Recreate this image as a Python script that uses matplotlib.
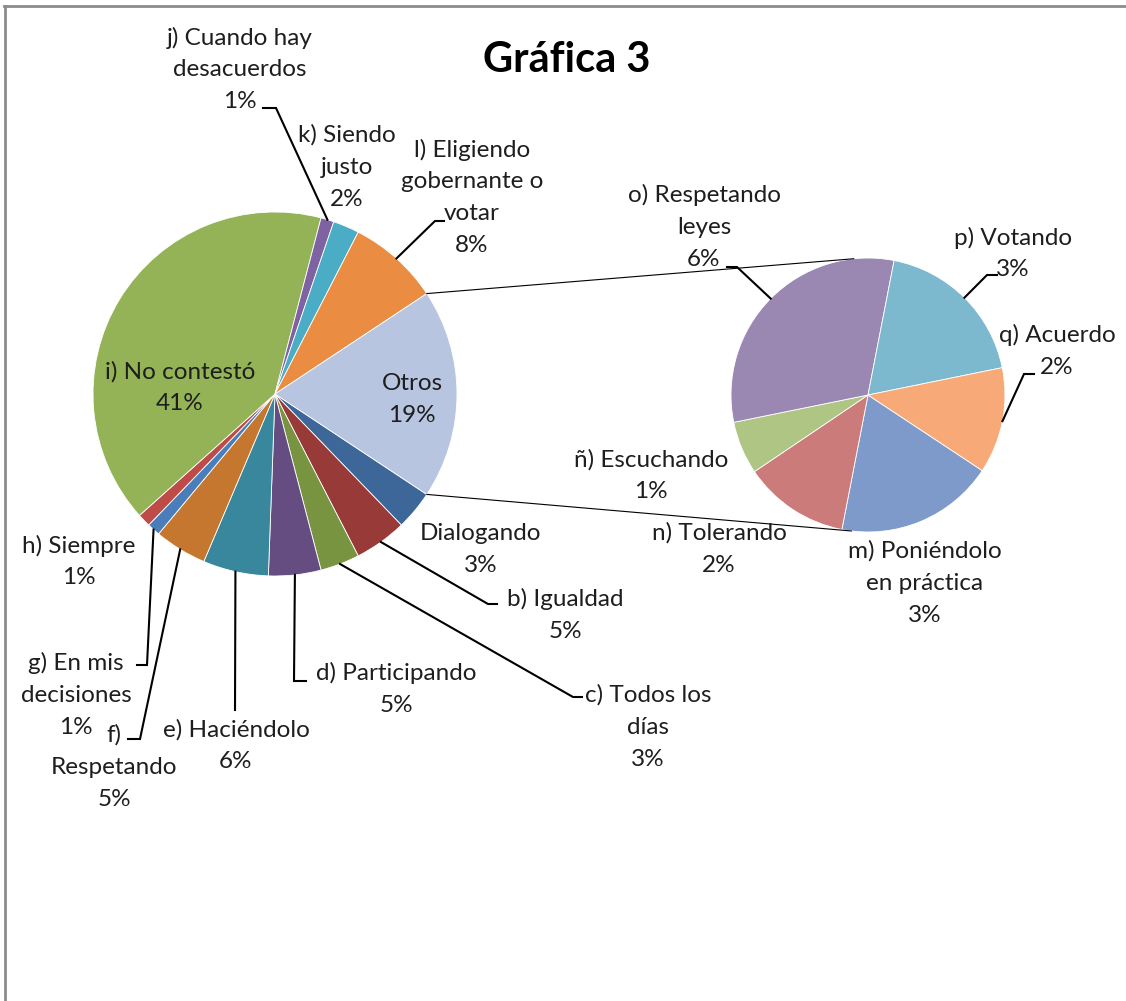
import numpy as np
import matplotlib.pyplot as plt

plt.rcParams['font.family'] = ['Lato', 'DejaVu Sans']

W, H = 1126, 1001

# main pie, number of answers, clockwise starting under "Otros"
main_names = ['Dialogando', 'b) Igualdad', 'c) Todos los\ndías', 'd) Participando',
              'e) Haciéndolo', 'f)\nRespetando', 'g) En mis\ndecisiones', 'h) Siempre',
              'i) No contestó', 'j) Cuando hay\ndesacuerdos', 'k) Siendo\njusto',
              'l) Eligiendo\ngobernante o\nvotar']
main_counts = [3, 4, 3, 4, 5, 4, 1, 1, 35, 1, 2, 7]
main_colors = ['#3D6798', '#983A38', '#789440', '#654D82', '#38879C', '#C5772F',
               '#4A7EBB', '#BE4B48', '#93B356', '#7E62A1', '#4BACC6', '#EA8D42']

# second pie: the answers grouped in "Otros"
sub_names = ['m) Poniéndolo\nen práctica', 'n) Tolerando', 'ñ) Escuchando',
             'o) Respetando\nleyes', 'p) Votando', 'q) Acuerdo']
sub_counts = [3, 2, 1, 5, 3, 2]
sub_colors = ['#7E9ACA', '#CB7B79', '#AEC584', '#9A88B3', '#7CB9CF', '#F7AA78']

names = main_names + ['Otros']
counts = main_counts + [sum(sub_counts)]
colors = main_colors + ['#B7C5E0']
total = sum(counts)
start = -180.0 * counts[-1] / total   # "Otros" centred on the right side

# pie centres / radius in pixels (y from the top)
c1, r1 = (275, 394), 182
c2, r2 = (868, 395), 137


def mid_angles(vals):
    vals = np.array(vals, dtype=float)
    cum = np.cumsum(vals) - vals / 2
    return start - cum / vals.sum() * 360


def on_circle(c, r, ang):
    a = np.radians(ang)
    return c[0] + r * np.cos(a), c[1] - r * np.sin(a)


fig = plt.figure(figsize=(W / 100, H / 100), dpi=100)
ax = fig.add_axes([0, 0, 1, 1])

wp = dict(edgecolor='white', linewidth=0.6)
ax.pie(counts, colors=colors, center=(c1[0], H - c1[1]), radius=r1,
       startangle=start, counterclock=False, wedgeprops=wp)
ax.pie(sub_counts, colors=sub_colors, center=(c2[0], H - c2[1]), radius=r2,
       startangle=start, counterclock=False, wedgeprops=wp)

# lines joining "Otros" to the second pie
half = counts[-1] / total * 180
for a1, a2 in [(half, 96), (-half, -97)]:
    x1, y1 = on_circle(c1, r1, a1)
    x2, y2 = on_circle(c2, r2, a2)
    ax.plot([x1, x2], [H - y1, H - y2], color='black', lw=0.8)

# label centre (px), leader elbow and leader end (px)
main_pos = [((481, 549), None, None),
            ((565, 615), (488, 604), (497, 604)),
            ((648, 727), (573, 697), (582, 697)),
            ((396, 689), (294, 681), (306, 681)),
            ((236, 746), (235, 710), None),
            ((114, 767), (140, 739), (128, 739)),
            ((76, 695), (147, 665), (137, 665)),
            ((79, 562), None, None),
            ((180, 388), None, None),
            ((240, 70), (276, 108), (263, 108)),
            ((347, 167), None, None),
            ((472, 198), (435, 221), (444, 221)),
            ((412, 399), None, None)]
sub_pos = [((925, 583), None, None),
           ((719, 549), None, None),
           ((651, 476), None, None),
           ((704, 227), (737, 267), (727, 267)),
           ((1013, 254), (987, 275), (997, 275)),
           ((1057, 351), (1024, 374), (1034, 374))]

fs = 17.5
step = 32   # px between label lines


def put_labels(c, r, vals, labels, pos):
    for lab, v, ang, (xy, elbow, end) in zip(labels, vals, mid_angles(vals), pos):
        pct = round(100 * v / total)
        lines = f'{lab}\n{pct}%'.split('\n')
        n = len(lines)
        for i, line in enumerate(lines):
            y = xy[1] + (i - (n - 1) / 2) * step
            ax.text(xy[0], H - y, line, ha='center', va='center',
                    fontsize=fs, color='#1E1E1E')
        if elbow is not None:
            x0, y0 = on_circle(c, r, ang)
            px = [x0, elbow[0]]
            py = [y0, elbow[1]]
            if end is not None:
                px.append(end[0])
                py.append(end[1])
            ax.plot(px, [H - y for y in py], color='black', lw=1.5,
                    solid_joinstyle='miter')


put_labels(c1, r1, counts, names, main_pos)
put_labels(c2, r2, sub_counts, sub_names, sub_pos)

ax.text(567, H - 72, 'Gráfica 3', ha='center', va='baseline',
        fontsize=30, fontweight='bold', color='black')

# chart area border (top and left only visible)
ax.plot([4, W], [H - 6, H - 6], color='#8C8C8C', lw=2)
ax.plot([5, 5], [H - 6, 0], color='#8C8C8C', lw=2)

ax.set_xlim(0, W)
ax.set_ylim(0, H)
ax.set_aspect('equal')
ax.axis('off')

fig.savefig('out.png', dpi=100)
